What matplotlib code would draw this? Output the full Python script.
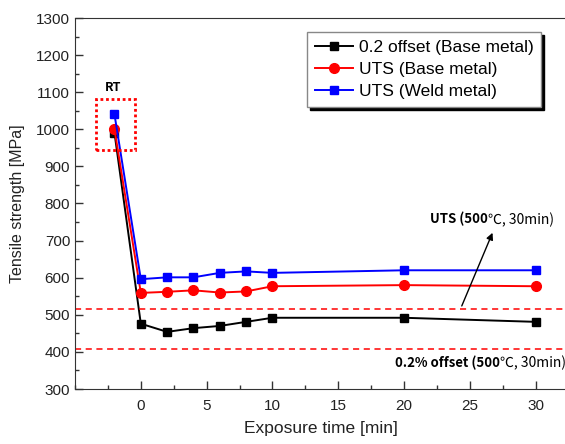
import matplotlib

matplotlib.use("Agg")

import matplotlib.pyplot as plt
from matplotlib.patches import Rectangle
from matplotlib.ticker import MultipleLocator

plt.rcParams["font.family"] = ["Liberation Sans", "DejaVu Sans"]

# exposure time [min]; -2 stands for the room-temperature (RT) specimen
time_min = [-2, 0, 2, 4, 6, 8, 10, 20, 30]
offset_base = [990, 476, 454, 464, 470, 481, 492, 492, 481]
uts_base = [1000, 559, 562, 566, 560, 563, 577, 580, 577]
uts_weld = [1040, 596, 601, 601, 613, 617, 613, 620, 620]

ref_uts = 515      # UTS (500C, 30min)
ref_offset = 407   # 0.2% offset (500C, 30min)

CJK = ["Noto Sans CJK KR", "DejaVu Sans"]

fig = plt.figure(figsize=(5.65, 4.44), dpi=100)
ax = fig.add_axes([75 / 565, 55 / 444, 491 / 565, 371 / 444])

ax.plot(time_min, offset_base, color="black", marker="s", markersize=6,
        linewidth=1.4, label="0.2 offset (Base metal)")
ax.plot(time_min, uts_base, color="red", marker="o", markersize=7,
        linewidth=1.4, label="UTS (Base metal)")
ax.plot(time_min, uts_weld, color="blue", marker="s", markersize=6,
        linewidth=1.4, label="UTS (Weld metal)")

ax.axhline(ref_uts, color="red", linestyle=(0, (4, 3)), linewidth=1.1)
ax.axhline(ref_offset, color="red", linestyle=(0, (4, 3)), linewidth=1.1)

# dotted box around room-temperature points
ax.add_patch(Rectangle((-3.4, 943), 2.95, 138, fill=False, edgecolor="red",
                       linestyle=(0, (1, 1)), linewidth=2.0, zorder=5))
ax.text(-2.1, 1113, "RT", ha="center", va="center", fontsize=9,
        fontweight="bold", family=CJK)


def two_part_label(x, y, bold_part, plain_part):
    t1 = ax.text(x, y, bold_part, ha="left", va="center", fontsize=9.5,
                 fontweight="bold", family=CJK)
    ax.annotate(plain_part, xy=(1, 0.5), xycoords=t1, ha="left", va="center",
                fontsize=10, family=CJK, annotation_clip=False)


two_part_label(22.0, 757, "UTS (500", "℃, 30min)")
two_part_label(19.3, 370, "0.2% offset (500", "℃, 30min)")
ax.annotate("", xy=(26.8, 728), xytext=(24.3, 517),
            arrowprops=dict(arrowstyle="-|>", color="black", lw=1.0,
                            mutation_scale=10))

ax.set_xlim(-5, 32.3)
ax.set_ylim(300, 1300)
ax.xaxis.set_major_locator(MultipleLocator(5))
ax.xaxis.set_minor_locator(MultipleLocator(2.5))
ax.yaxis.set_major_locator(MultipleLocator(100))
ax.yaxis.set_minor_locator(MultipleLocator(50))
ax.set_xticks([0, 5, 10, 15, 20, 25, 30])
ax.tick_params(which="major", direction="in", length=6, width=1,
               labelsize=11, color="#333333", labelcolor="#222222")
ax.tick_params(which="minor", direction="in", length=3, width=1, color="#333333")
ax.tick_params(axis="x", pad=7)
ax.spines["right"].set_visible(False)
for side in ("left", "bottom", "top"):
    ax.spines[side].set_color("#333333")

ax.set_xlabel("Exposure time [min]", fontsize=12.5, labelpad=6, color="#222222")
ax.set_ylabel("Tensile strength [MPa]", fontsize=11.5, labelpad=8, color="#222222")

ax.legend(loc="upper right", bbox_to_anchor=(0.967, 0.985), fontsize=12.5,
          fancybox=False, edgecolor="#888888", framealpha=1,
          shadow={"color": "black", "alpha": 1}, handlelength=2.2,
          borderpad=0.45, labelspacing=0.4, handletextpad=0.3)

fig.savefig("out.png", dpi=100)
